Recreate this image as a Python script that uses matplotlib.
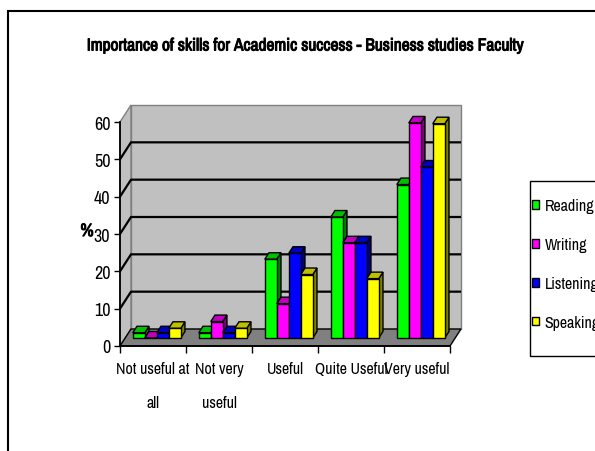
import matplotlib
matplotlib.use("Agg")
import matplotlib.pyplot as plt
import matplotlib.patheffects as pe
import numpy as np
from matplotlib.patches import Polygon, Rectangle, Patch

categories = ["Not useful at\nall", "Not very\nuseful", "Useful", "Quite Useful", "Very useful"]
series_names = ["Reading", "Writing", "Listening", "Speaking"]
reading = [1.4, 1.4, 21.1, 32.4, 41.1]
writing = [0.0, 4.4, 9.2, 25.5, 57.6]
listening = [1.4, 1.4, 22.7, 25.5, 45.8]
speaking = [2.6, 2.6, 17.0, 15.9, 57.4]
colors = ["#00ff00", "#ff00ff", "#0000ff", "#ffff00"]
y_ticks = [0, 10, 20, 30, 40, 50, 60]

plt.rcParams["font.family"] = ["Archivo Narrow", "Liberation Sans", "DejaVu Sans"]
FS = 11.5
# narrow font has no bold face here, so thicken with a stroke
BOLD = [pe.withStroke(linewidth=0.7, foreground="black")]

# oblique 3d look (Excel style): depth offset of floor/walls and bars, in data units
DX = 11 / 66
DY = 17 / (224 / 60)
F0 = 8 / 17      # depth of bar fronts
FD = 6.5 / 17    # bar depth
BW = 12 / 66
START = 0.115


def shade(c, k):
    rgb = np.array(matplotlib.colors.to_rgb(c))
    return tuple(rgb * k)


fig = plt.figure(figsize=(5.95, 4.52), dpi=100)
ax = fig.add_axes([120 / 595, 105 / 452, 330 / 595, 224 / 452])
ax.set_facecolor("none")
ymax = y_ticks[-1]
ncat = len(categories)
ax.set_xlim(0, ncat)
ax.set_ylim(0, ymax)

# walls and floor
left_wall = Polygon([(0, 0), (DX, DY), (DX, ymax + DY), (0, ymax)], closed=True,
                    facecolor="#c0c0c0", edgecolor="#808080", lw=1, clip_on=False, zorder=0.5)
back_wall = Polygon([(DX, DY), (ncat + DX, DY), (ncat + DX, ymax + DY), (DX, ymax + DY)], closed=True,
                    facecolor="#c0c0c0", edgecolor="#808080", lw=1, clip_on=False, zorder=0.5)
floor = Polygon([(0, 0), (ncat, 0), (ncat + DX, DY), (DX, DY)], closed=True,
                facecolor="#808080", edgecolor="black", lw=1, clip_on=False, zorder=0.6)
for p in (left_wall, back_wall, floor):
    ax.add_patch(p)
for v in y_ticks[1:-1]:
    ax.plot([0, DX, ncat + DX], [v, v + DY, v + DY], color="black", lw=1.6,
            clip_on=False, zorder=0.7, solid_capstyle="butt")

# bars
data = [reading, writing, listening, speaking]
for i, (vals, c) in enumerate(zip(data, colors)):
    x0 = np.arange(ncat) + START + i * BW + F0 * DX
    y0 = F0 * DY
    ddx, ddy = FD * DX, FD * DY
    z = 3 + 2 * i
    for x, v in zip(x0, vals):
        top = Polygon([(x, y0 + v), (x + BW, y0 + v), (x + BW + ddx, y0 + v + ddy), (x + ddx, y0 + v + ddy)],
                      closed=True, facecolor=shade(c, 0.75), edgecolor="black", lw=1, clip_on=False, zorder=z)
        side = Polygon([(x + BW, y0), (x + BW + ddx, y0 + ddy), (x + BW + ddx, y0 + v + ddy), (x + BW, y0 + v)],
                       closed=True, facecolor=shade(c, 0.5), edgecolor="black", lw=1, clip_on=False, zorder=z)
        ax.add_patch(side)
        ax.add_patch(top)
    ax.bar(x0, vals, width=BW, bottom=y0, align="edge", color=c, edgecolor="black", lw=1,
           clip_on=False, zorder=z + 1)

# axes
for s in ("top", "right"):
    ax.spines[s].set_visible(False)
for s in ("left", "bottom"):
    ax.spines[s].set_linewidth(1.3)
    ax.spines[s].set_zorder(1)
ax.set_yticks(y_ticks)
ax.tick_params(axis="y", direction="out", length=4, width=1, pad=3, labelsize=13)
ax.set_xticks(range(ncat + 1))
ax.set_xticklabels([])
ax.tick_params(axis="x", which="major", direction="out", length=5, width=1)
ax.set_xticks(np.arange(ncat) + 0.5, minor=True)
ax.set_xticklabels(categories, minor=True, fontsize=FS)
ax.tick_params(axis="x", which="minor", length=0, pad=11)
for t in ax.get_xticklabels(minor=True):
    t.set_linespacing(2.6)
    t.set_verticalalignment("top")

ax.set_ylabel("%", rotation=0, fontsize=13, path_effects=BOLD)
ax.yaxis.set_label_coords(-0.1, 0.513)
ax.yaxis.label.set_verticalalignment("center")

fig.text(306 / 595, 1 - 47 / 452, "Importance of skills for Academic success - Business studies Faculty",
         ha="center", va="center", fontsize=12.5, path_effects=BOLD)

# legend
handles = [Patch(facecolor=c, edgecolor="black", lw=1) for c in colors]
fig.legend(handles, series_names, loc="upper left", bbox_to_anchor=(532 / 595, 1 - 199 / 452),
           frameon=False, fontsize=FS, handlelength=0.45, handleheight=0.45,
           handletextpad=0.35, labelspacing=1.5, borderpad=0, borderaxespad=0)
fig.patches.append(Rectangle((530 / 595, 1 - 357 / 452), 0.5, 175 / 452, transform=fig.transFigure,
                             fill=False, edgecolor="black", lw=1))
# chart border
fig.patches.append(Rectangle((8 / 595, -0.1), 2, 0.1 + 1 - 12 / 452, transform=fig.transFigure,
                             fill=False, edgecolor="black", lw=1.5))

fig.savefig("out.png", dpi=100)
